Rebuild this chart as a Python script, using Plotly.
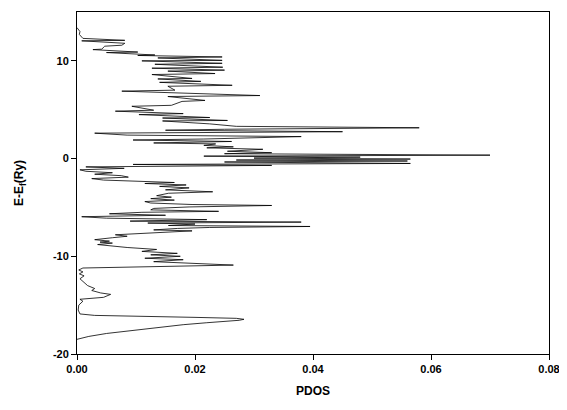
import plotly.graph_objects as go

# Energy (E - Ef, Ry) from bottom to top, and PDOS values
energy = [
    -18.5, -18.2, -17.9, -17.6, -17.3, -17.0, -16.8, -16.65, -16.55, -16.45,
    -16.35, -16.25, -16.15, -16.05, -15.9, -15.5, -15.0, -14.6, -14.4, -14.2,
    -13.9, -13.75, -13.5, -13.3, -13.0, -12.6, -12.3, -12.0, -11.8, -11.6,
    -11.4, -11.2, -10.9, -10.55, -10.35, -10.2, -10.0, -9.85, -9.7, -9.5,
    -9.3, -9.1, -8.95, -8.8, -8.65, -8.55, -8.45, -8.3, -8.1, -7.95,
    -7.8, -7.65, -7.5, -7.4, -7.3, -7.15, -7.05, -6.95, -6.85, -6.7,
    -6.6, -6.5, -6.4, -6.25, -6.1, -5.95, -5.8, -5.65, -5.5, -5.4,
    -5.25, -5.1, -4.95, -4.8, -4.7, -4.55, -4.4, -4.25, -4.1, -3.95,
    -3.8, -3.55, -3.4, -3.2, -3.0, -2.85, -2.7, -2.55, -2.45, -2.3,
    -2.2, -2.05, -1.9, -1.75, -1.6, -1.45, -1.3, -1.15, -1.0, -0.85,
    -0.7, -0.6, -0.5, -0.35, -0.25, -0.15, -0.05, 0.05, 0.15, 0.25,
    0.35, 0.5, 0.6, 0.75, 0.95, 1.1, 1.2, 1.35, 1.5, 1.6,
    1.75, 1.9, 2.0, 2.25, 2.4, 2.6, 2.75, 2.9, 3.0, 3.15,
    3.3, 3.55, 3.85, 3.9, 4.15, 4.2, 4.5, 4.6, 4.85, 4.95,
    5.35, 5.45, 5.85, 5.95, 6.35, 6.45, 6.9, 7.0, 7.4, 7.5,
    7.8, 7.9, 8.15, 8.2, 8.6, 8.7, 8.95, 9.05, 9.25, 9.35,
    9.65, 9.75, 10.0, 10.05, 10.3, 10.4, 10.55, 10.6, 10.85, 10.9,
    11.15, 11.2, 11.5, 11.6, 11.8, 12.05, 12.1, 12.3, 12.7, 13.0,
    13.4,
]
pdos = [
    0.0, 0.002, 0.005, 0.009, 0.013, 0.018, 0.022, 0.026, 0.0275, 0.0283,
    0.027, 0.020, 0.010, 0.003, 0.0005, 0.0002, 0.0003, 0.001, 0.0005, 0.0045,
    0.0057, 0.004, 0.0025, 0.003, 0.0018, 0.001, 0.0005, 0.0012, 0.0004, 0.001,
    0.0003, 0.001, 0.0265, 0.013, 0.018, 0.0115, 0.0175, 0.0125, 0.017, 0.011,
    0.0135, 0.0085, 0.006, 0.0035, 0.006, 0.0039, 0.0055, 0.003, 0.006, 0.0085,
    0.0065, 0.011, 0.016, 0.0195, 0.013, 0.017, 0.0225, 0.0395, 0.0155, 0.020,
    0.012, 0.038, 0.009, 0.022, 0.005, 0.0008, 0.015, 0.0055, 0.011, 0.024,
    0.0125, 0.013, 0.019, 0.033, 0.0195, 0.0125, 0.0115, 0.0165, 0.0125, 0.016,
    0.0135, 0.0155, 0.023, 0.015, 0.019, 0.014, 0.0185, 0.0115, 0.0165, 0.011,
    0.0045, 0.0025, 0.0087, 0.0075, 0.003, 0.006, 0.0015, 0.0005, 0.008, 0.0015,
    0.033, 0.0095, 0.0565, 0.025, 0.056, 0.027, 0.0565, 0.030, 0.048, 0.0215,
    0.070, 0.025, 0.033, 0.0255, 0.0315, 0.022, 0.0265, 0.0215, 0.0235, 0.013,
    0.0262, 0.0095, 0.0215, 0.038, 0.0085, 0.003, 0.045, 0.015, 0.025, 0.058,
    0.027, 0.0225, 0.0145, 0.0255, 0.0145, 0.0225, 0.0105, 0.018, 0.0065, 0.013,
    0.0093, 0.016, 0.0178, 0.0217, 0.0154, 0.031, 0.0076, 0.0166, 0.0154, 0.0263,
    0.014, 0.021, 0.0137, 0.0195, 0.0127, 0.0234, 0.0154, 0.025, 0.0127, 0.0247,
    0.0132, 0.0246, 0.011, 0.0246, 0.0137, 0.0246, 0.0103, 0.0132, 0.005, 0.0103,
    0.0027, 0.0042, 0.0047, 0.0076, 0.0081, 0.0008, 0.0081, 0.001, 0.0004, 0.0005,
    0.0,
]

x_ticks = [0.0, 0.02, 0.04, 0.06, 0.08]
x_tick_labels = ["0.00", "0.02", "0.04", "0.06", "0.08"]
y_ticks = [-20, -10, 0, 10]
y_tick_labels = ["-20", "-10", "0", "10"]

fig = go.Figure(
    go.Scatter(
        x=pdos, y=energy, mode="lines",
        line=dict(color="black", width=0.8),
        showlegend=False,
    )
)

font_family = "Arial, Liberation Sans, sans-serif"
axis_common = dict(
    showline=True, linecolor="black", linewidth=1, mirror=True,
    ticks="outside", ticklen=5, tickcolor="black", tickwidth=1,
    showgrid=False, zeroline=False,
    tickfont=dict(family=font_family, size=11, color="black"),
)

fig.update_layout(
    width=559, height=402,
    margin=dict(l=69, r=18, t=4, b=56),
    paper_bgcolor="white", plot_bgcolor="white",
    font=dict(family=font_family, color="black"),
    xaxis=dict(
        range=[0, 0.08], tickvals=x_ticks,
        ticktext=["<b>%s</b>" % t for t in x_tick_labels],
        title=dict(text="<b>PDOS</b>", font=dict(size=12, family=font_family), standoff=12),
        **axis_common,
    ),
    yaxis=dict(
        range=[-20, 15], tickvals=y_ticks,
        ticktext=["<b>%s</b>" % t for t in y_tick_labels],
        title=dict(text="<b>E-E<sub>f</sub>(Ry)</b>", font=dict(size=12, family=font_family), standoff=26),
        **axis_common,
    ),
)

fig.write_html("out.html")
